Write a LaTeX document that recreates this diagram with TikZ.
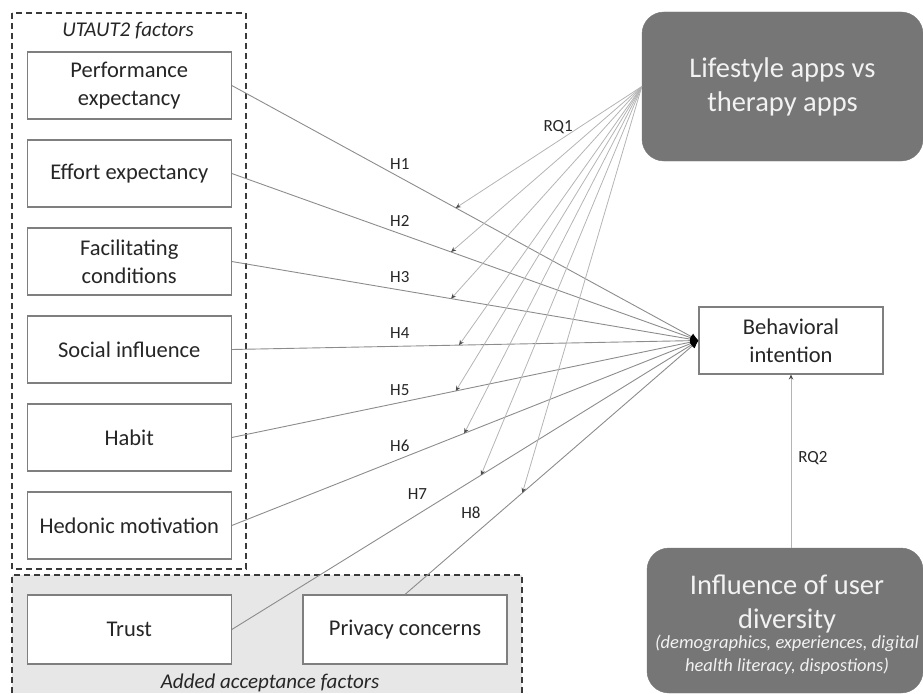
\documentclass[tikz,border=0pt]{standalone}
\usepackage{fontspec}
\setmainfont{Carlito}
\usetikzlibrary{arrows.meta}

\definecolor{text color}{HTML}{262626}
\definecolor{box border color}{HTML}{7F7F7F}
\definecolor{frame color}{HTML}{3A3A3A}
\definecolor{added background color}{HTML}{E7E7E7}
\definecolor{panel color}{HTML}{767676}
\definecolor{hypothesis color}{HTML}{8C8C8C}
\definecolor{question color}{HTML}{B4B4B4}
\tikzset{
    x={1pt},
    y={-1pt},
    factor/.style={
        draw=box border color, fill=white,
        line width={1.1pt},
        minimum width={204},
        minimum height={67},
        inner sep=2pt,
        align=center,
        text=text color,
        font={\fontsize{22.5}{28}\selectfont},
    },
    group frame/.style={
        draw=frame color,
        line width={1.8pt},
        dash pattern=on 6pt off 4pt,
    },
    group title/.style={
        font={\itshape\fontsize{21}{25}\selectfont},
        text=text color,
    },
    panel text/.style={
        align=center,
        text=white!95!black,
        font={\fontsize{28.5}{34}\selectfont},
    },
    panel note/.style={
        panel text,
        font={\itshape\fontsize{18.5}{23}\selectfont},
    },
    panel/.style={
        panel text,
        fill=panel color, draw=panel color,
        rounded corners={22pt},
    },
    hypothesis/.style={
        draw=hypothesis color,
        line width={0.9pt},
        -{Latex[length=8pt,width=7pt,color=black]},
    },
    question/.style={
        draw=question color,
        line width={0.8pt},
        -{Stealth[length=5pt,width=4.5pt,color=black!70]},
    },
    path label/.style={
        font={\fontsize{17}{20}\selectfont},
        text=text color,
        inner sep=2pt,
    },
}

\begin{document}
\begin{tikzpicture}
\useasboundingbox (0,0) rectangle (923,693);
% frames
\path[fill=added background color] (12,575) rectangle (522,693);
\path[group frame] (12,693) -- (12,575) -- (522,575) -- (522,693);
\path[group frame] (12,13) rectangle (246,569);
\node[group title] (utaut title) at (128,31) {UTAUT2 factors};
\node[group title] (added title) at (270,683) {Added acceptance factors};
% factors
\node[factor] (pe) at (129.25,85.5) {Performance\\expectancy};
\node[factor] (ee) at (129.25,173.5) {Effort expectancy};
\node[factor] (fc) at (129.25,261.5) {Facilitating\\conditions};
\node[factor] (si) at (129.25,349.5) {Social influence};
\node[factor] (ht) at (129.25,437.5) {Habit};
\node[factor] (hm) at (129.25,525.5) {Hedonic motivation};
\node[factor, minimum height={69}] (tr) at (129.25,629.5) {Trust};
\node[factor, minimum height={69}] (pc) at (405,629.5) {Privacy concerns};
\node[factor, minimum width={184}] (bi) at (791,340.5) {Behavioral\\intention};
% panels
\node[panel, minimum width={281}, minimum height={149}] (apps) at (782.5,86.5) {Lifestyle apps vs\\therapy apps};
\node[panel, minimum width={276}, minimum height={145}] (diversity) at (785,620.5) {};
\node[panel text] (diversity title) at (787,604) {Influence of user\\diversity};
\node[panel note] (diversity note) at (787,655) {(demographics, experiences, digital\\health literacy, dispostions)};
% hypotheses
\draw[hypothesis] (pe.east) -- node[path label, pos=0.36, above=5pt] (l1) {H1} coordinate[pos=0.48] (h1) (bi.west);
\draw[hypothesis] (ee.east) -- node[path label, pos=0.36, above=5pt] (l2) {H2} coordinate[pos=0.47] (h2) (bi.west);
\draw[hypothesis] (fc.east) -- node[path label, pos=0.36, above=5pt] (l3) {H3} coordinate[pos=0.47] (h3) (bi.west);
\draw[hypothesis] (si.east) -- node[path label, pos=0.36, above=5pt] (l4) {H4} coordinate[pos=0.487] (h4) (bi.west);
\draw[hypothesis] (ht.east) -- node[path label, pos=0.36, above=5pt] (l5) {H5} coordinate[pos=0.48] (h5) (bi.west);
\draw[hypothesis] (hm.east) -- node[path label, pos=0.36, above=5pt] (l6) {H6} coordinate[pos=0.498] (h6) (bi.west);
\draw[hypothesis] (tr.east) -- node[path label, pos=0.43, above left=3pt] (l7) {H7} coordinate[pos=0.534] (h7) (bi.west);
\draw[hypothesis] (pc.north) -- node[path label, pos=0.276, above left=3pt] (l8) {H8} coordinate[pos=0.4] (h8) (bi.west);
% research questions
\draw[question] (apps.west) -- node[path label, pos=0.45, above=5pt] (rq1) {RQ1} (h1);
\draw[question] (apps.west) -- (h2);
\draw[question] (apps.west) -- (h3);
\draw[question] (apps.west) -- (h4);
\draw[question] (apps.west) -- (h5);
\draw[question] (apps.west) -- (h6);
\draw[question] (apps.west) -- (h7);
\draw[question] (apps.west) -- (h8);
\draw[question] (diversity.north -| bi.south) -- node[path label, pos=0.52, right=5pt] (rq2) {RQ2} (bi.south);
\end{tikzpicture}
\end{document}
